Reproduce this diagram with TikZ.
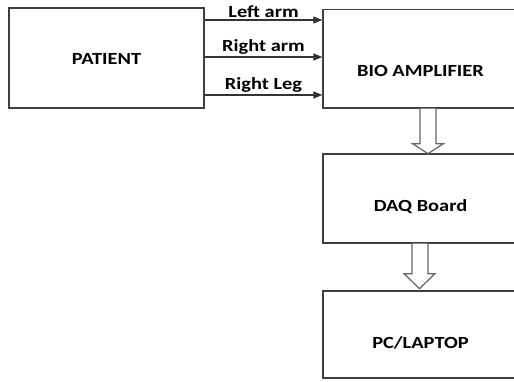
\documentclass[tikz,border=0pt]{standalone}
\usepackage{fontspec}
\setmainfont{Carlito}[FakeStretch=1.2]
\usetikzlibrary{arrows.meta}

\begin{document}
\begin{tikzpicture}[
		x=1pt, y=1pt,
		font=\fontsize{17}{20}\selectfont\bfseries,
		block/.style={
			draw=black!75,
			line width=1.3pt,
			minimum width=195pt,
			inner sep=0pt,
			text depth=0pt,
		},
		drop/.style={text height=#1},
		lead/.style={
			draw=black!80,
			line width=1.2pt,
			-{Triangle[length=9pt,width=7pt]},
		},
		hollow/.style={
			draw=black!60,
			line width=1.2pt,
			fill=white,
		},
	]
		\useasboundingbox (0,0) rectangle (514,381);

		\node[block, drop=14pt, minimum height=100pt] (pat) at (106.5,323) {PATIENT};
		\node[block, drop=36pt, minimum height=98.5pt] (bio) at (420.5,322.25) {BIO AMPLIFIER};
		\node[block, drop=26pt, minimum height=89pt] (daq) at (420.5,182.5) {DAQ Board};
		\node[block, drop=28pt, minimum height=87pt] (pc) at (420.5,46.5) {PC/LAPTOP};

		% electrode leads
		\draw[lead] ([yshift=38pt]pat.east) -- ([yshift=38pt]pat.east -| bio.west)
			node[midway, above, inner sep=2pt] {Left arm};
		\draw[lead] ([yshift=1pt]pat.east) -- ([yshift=1pt]pat.east -| bio.west)
			node[midway, above, inner sep=2pt] {Right arm};
		\draw[lead] ([yshift=-37pt]pat.east) -- ([yshift=-37pt]pat.east -| bio.west)
			node[midway, above, inner sep=2pt] {Right Leg};

		% data flow
		\draw[hollow] ([xshift=-0.5pt]bio.south) -- ++(0,-35) -- ++(-7.5,0)
			-- ++(15.5,-10) -- ++(15.5,10) -- ++(-7.5,0) -- ++(0,35);
		\draw[hollow] ([xshift=-8.5pt]daq.south) -- ++(0,-30) -- ++(-8,0)
			-- ++(15.5,-15) -- ++(15.5,15) -- ++(-7,0) -- ++(0,30);
	\end{tikzpicture}
\end{document}
